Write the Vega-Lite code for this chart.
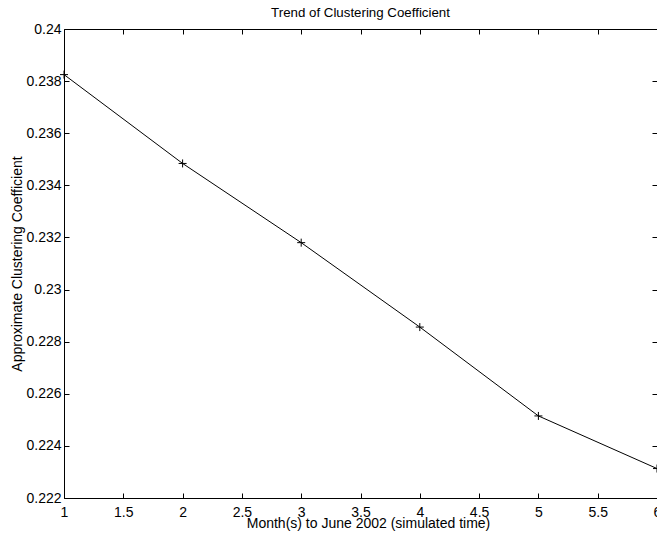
{
  "$schema": "https://vega.github.io/schema/vega-lite/v6.json",
  "width": 593,
  "height": 469,
  "autosize": "none",
  "padding": {"left": 64, "top": 29, "right": 0, "bottom": 37},
  "background": "white",
  "title": {
    "text": "Trend of Clustering Coefficient",
    "fontSize": 13.3,
    "fontWeight": "normal",
    "font": "Liberation Sans",
    "color": "black",
    "baseline": "alphabetic",
    "offset": 3,
    "dy": 11,
    "anchor": "middle",
    "frame": "group"
  },
  "data": {
    "values": [
      {"month": 1, "cc": 0.23825},
      {"month": 2, "cc": 0.23484},
      {"month": 3, "cc": 0.2318},
      {"month": 4, "cc": 0.22856},
      {"month": 5, "cc": 0.22515},
      {"month": 6, "cc": 0.22313}
    ]
  },
  "config": {
    "font": "Liberation Sans",
    "view": {"stroke": null},
    "axis": {
      "grid": false,
      "domainColor": "black",
      "domainWidth": 1,
      "tickColor": "black",
      "tickWidth": 1,
      "tickSize": -5,
      "labelColor": "black",
      "labelFontSize": 14,
      "labelFont": "Liberation Sans",
      "labelFlush": false,
      "labelOverlap": false,
      "titleColor": "black",
      "titleFontSize": 14,
      "titleFont": "Liberation Sans",
      "titleFontWeight": "normal"
    }
  },
  "layer": [
    {
      "mark": {"type": "line", "color": "black", "strokeWidth": 1},
      "encoding": {
        "x": {
          "field": "month", "type": "quantitative",
          "scale": {"domain": [1, 6], "nice": false, "zero": false},
          "axis": {
            "orient": "bottom",
            "values": [1, 1.5, 2, 2.5, 3, 3.5, 4, 4.5, 5, 5.5, 6],
            "format": ".1~f",
            "labelPadding": 12,
            "title": "Month(s) to June 2002 (simulated time)",
            "titleBaseline": "alphabetic",
            "titleAlign": "center",
            "titleX": 304,
            "titleY": 29.5
          }
        },
        "y": {
          "field": "cc", "type": "quantitative",
          "scale": {"domain": [0.222, 0.24], "nice": false, "zero": false},
          "axis": {
            "orient": "left",
            "values": [0.222, 0.224, 0.226, 0.228, 0.23, 0.232, 0.234, 0.236, 0.238, 0.24],
            "format": ".3~f",
            "labelPadding": 8,
            "title": "Approximate Clustering Coefficient",
            "titleBaseline": "alphabetic",
            "titleAngle": 270,
            "titleAlign": "center",
            "titleX": -43,
            "titleY": 234.5
          }
        }
      }
    },
    {
      "mark": {
        "type": "point",
        "shape": "M-1,0L1,0M0,-1L0,1",
        "filled": false,
        "size": 64,
        "color": "black",
        "strokeWidth": 1,
        "opacity": 1
      },
      "encoding": {
        "x": {"field": "month", "type": "quantitative", "axis": {
            "orient": "top", "labels": false, "title": null,
            "values": [1, 1.5, 2, 2.5, 3, 3.5, 4, 4.5, 5, 5.5, 6]}},
        "y": {"field": "cc", "type": "quantitative", "axis": {
            "orient": "right", "labels": false, "title": null,
            "values": [0.222, 0.224, 0.226, 0.228, 0.23, 0.232, 0.234, 0.236, 0.238, 0.24]}}
      }
    }
  ],
  "resolve": {"axis": {"x": "independent", "y": "independent"}}
}
